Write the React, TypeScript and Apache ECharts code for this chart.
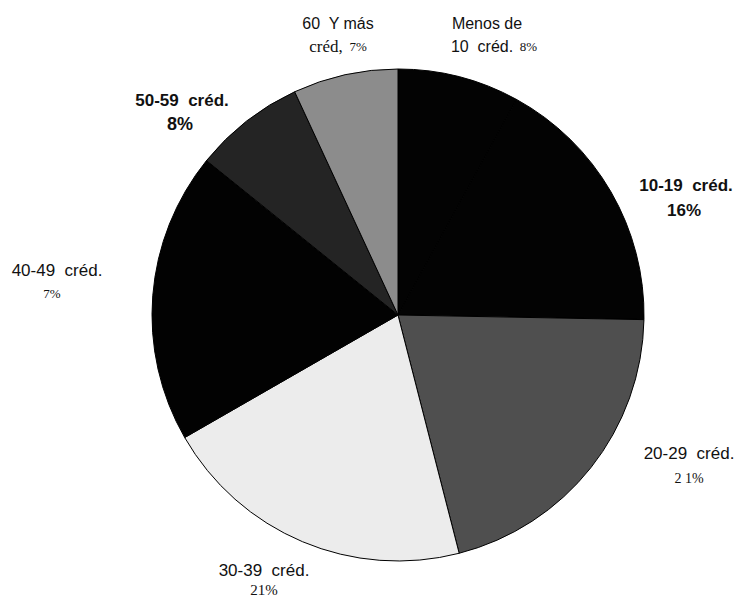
import React, { useEffect, useRef } from "react";
import * as echarts from "echarts";

// Slice categories (clockwise from 12 o'clock)
const categories = [
  "Menos de 10 créd.",
  "10-19 créd.",
  "20-29 créd.",
  "30-39 créd.",
  "40-49 créd.",
  "50-59 créd.",
  "60 Y más créd.",
];
// Slice sizes (percent of the circle)
const values = [8, 17.3, 20.7, 20.7, 19.1, 7.3, 6.9];
// Percent texts as printed in the picture
const printedPct = ["8%", "16%", "21%", "21%", "7%", "8%", "7%"];
const sliceColors = ["#030303", "#030303", "#4f4f4f", "#ececec", "#020202", "#242424", "#8c8c8c"];

export default function App() {
  const ref = useRef<HTMLDivElement>(null);
  useEffect(() => {
    if (!ref.current) return;
    const chart = echarts.init(ref.current, undefined, { renderer: "svg" });
    const sans = "Liberation Sans, Arial, sans-serif";
    const serif = "Liberation Serif, Times New Roman, serif";
    const t = (x: number, y: number, text: string, font: string, size: number, weight = "normal") => ({
      type: "text",
      x,
      y,
      style: {
        text,
        fontFamily: font,
        fontSize: size,
        fontWeight: weight,
        fill: "#111",
        align: "center",
        verticalAlign: "middle",
      },
    });
    chart.setOption({
      animation: false,
      backgroundColor: "#ffffff",
      series: [
        {
          type: "pie",
          center: [398, 315],
          radius: 246,
          startAngle: 90,
          clockwise: true,
          silent: true,
          label: { show: false },
          labelLine: { show: false },
          itemStyle: { borderColor: "#000", borderWidth: 1 },
          data: categories.map((name, i) => ({
            name,
            value: values[i],
            itemStyle: { color: sliceColors[i] },
          })),
        },
      ],
      graphic: [
        t(338, 23, "60  Y más", sans, 16),
        {
          type: "text",
          x: 338,
          y: 46,
          style: {
            text: "{a|créd,}  {b|" + printedPct[6] + "}",
            align: "center",
            verticalAlign: "middle",
            fill: "#111",
            rich: {
              a: { fontFamily: serif, fontSize: 17, fill: "#111" },
              b: { fontFamily: serif, fontSize: 13, fill: "#111" },
            },
          },
        },
        t(487, 23, "Menos de", sans, 16),
        {
          type: "text",
          x: 494,
          y: 46,
          style: {
            text: "{a|10  créd.}  {b|" + printedPct[0] + "}",
            align: "center",
            verticalAlign: "middle",
            fill: "#111",
            rich: {
              a: { fontFamily: sans, fontSize: 16, fill: "#111" },
              b: { fontFamily: serif, fontSize: 13, fill: "#111" },
            },
          },
        },
        t(182, 100, "50-59  créd.", sans, 17, "bold"),
        t(180, 124, printedPct[5], sans, 18, "bold"),
        t(686, 185, "10-19  créd.", sans, 17, "bold"),
        t(684, 210, printedPct[1], sans, 17, "bold"),
        t(57, 270, "40-49  créd.", sans, 17),
        t(52, 293, printedPct[4], serif, 13),
        t(689, 453, "20-29  créd.", sans, 17),
        t(689, 478, printedPct[2].replace("21", "2 1"), serif, 14),
        t(264, 570, "30-39  créd.", sans, 17),
        t(264, 590, printedPct[3], serif, 15),
      ],
    });
    return () => chart.dispose();
  }, []);
  return (
    <div
      ref={ref}
      style={{ position: "fixed", left: 0, top: 0, width: 742, height: 599, background: "#fff" }}
    />
  );
}
